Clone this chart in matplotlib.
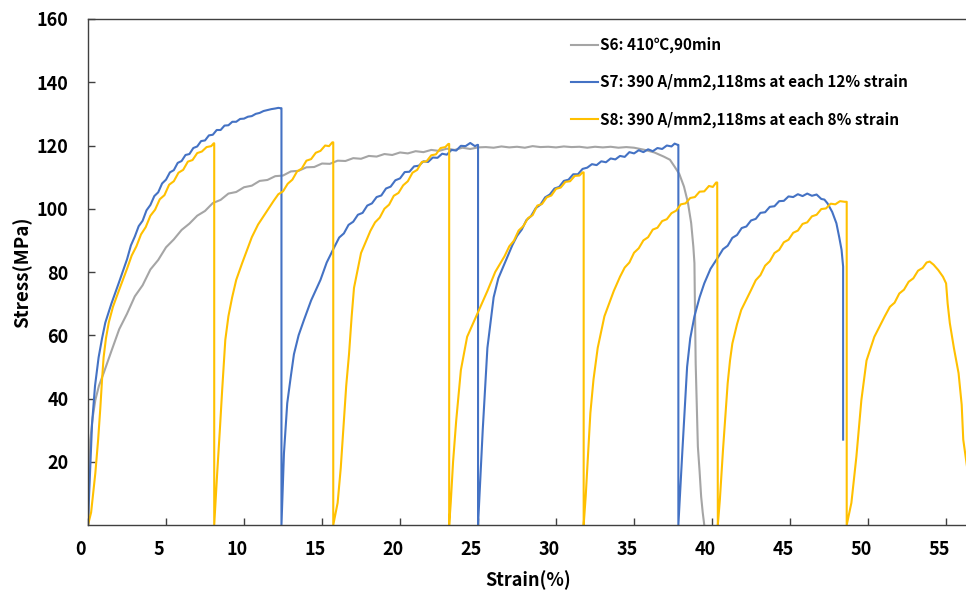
import matplotlib
matplotlib.use("Agg")
import matplotlib.pyplot as plt
import matplotlib.transforms as mtransforms

plt.rcParams['font.family'] = ['Noto Sans CJK JP', 'DejaVu Sans']
plt.rcParams['font.weight'] = 'bold'

# ---------------- data ----------------
s6_strain = [0, 0.05, 0.15, 0.3, 0.47, 0.7, 1.0,
             1.5, 2.0, 2.5, 3.0, 3.5, 4.0, 4.5, 5.0, 5.5, 6.0, 6.5, 7.0, 7.5, 8.0, 8.5, 9.0,
             9.5, 10.0, 10.5, 11.0, 11.5, 12.0, 12.5, 13.0, 13.5, 14.0, 14.5, 15.0, 15.5, 16.0,
             16.5, 17.0, 17.5, 18.0, 18.5, 19.0, 19.5, 20.0, 20.5, 21.0, 21.5, 22.0, 22.5, 23.0,
             23.5, 24.0, 24.5, 25.0,
             25.5, 26.0, 26.5, 27.0, 27.5, 28.0, 28.5, 29.0, 29.5, 30.0, 30.5, 31.0, 31.5, 32.0,
             32.5, 33.0, 33.5, 34.0, 34.5, 35.0,
             35.7, 36.3, 36.9, 37.3, 37.6, 37.9, 38.2, 38.45, 38.66, 38.8, 38.87, 38.9, 38.95,
             39.09, 39.2, 39.3, 39.4, 39.5]
s6_stress = [0, 10, 27, 34, 39.5, 44, 48,
             55, 61.9, 66.8, 72.3, 75.8, 80.8, 83.8, 87.8, 90.3, 93.3, 95.3, 97.8, 99.3, 101.8, 102.8, 104.8,
             105.3, 106.8, 107.3, 108.8, 109.1, 110.3, 110.5, 111.8, 112.0, 113.1, 113.2, 114.3, 114.2, 115.2,
             115.1, 116.0, 115.8, 116.7, 116.5, 117.3, 117.0, 117.8, 117.5, 118.2, 117.9, 118.6, 118.3, 119.0,
             118.6, 119.3, 118.9, 119.4,
             119.5, 119.3, 119.7, 119.4, 119.6, 119.3, 119.8, 119.5, 119.6, 119.4, 119.7, 119.5, 119.6, 119.3,
             119.6, 119.4, 119.6, 119.3, 119.5, 119.3,
             118.6, 117.8, 116.5, 115.5, 113.3, 111, 107, 102, 95.5, 88, 82.8, 70, 51,
             24.8, 17, 9, 4, 0]

s7_strain = [0, 0.04, 0.26, 0.45, 0.68, 0.9, 1.11, 1.5, 1.97,
             2.5, 2.75, 3.0, 3.25, 3.5, 3.75, 4.0, 4.25, 4.5, 4.75, 5.0, 5.25, 5.5, 5.75, 6.0,
             6.25, 6.5, 6.75, 7.0, 7.25, 7.5, 7.75, 8.0, 8.25, 8.5, 8.75, 9.0, 9.25, 9.5, 9.75,
             10.0, 10.25, 10.5, 10.75, 11.0, 11.25, 11.5, 11.75, 12.0, 12.2, 12.34, 12.4,
             12.4, 12.56, 12.77, 13.0, 13.2, 13.5, 13.84, 14.3, 14.9, 15.3,
             15.8, 16.1, 16.4, 16.7, 17.0, 17.3, 17.6, 17.9, 18.2, 18.5, 18.8, 19.1, 19.4, 19.7,
             20.0, 20.3, 20.6, 20.9, 21.2, 21.5, 21.8, 22.1, 22.4, 22.7, 23.0, 23.3, 23.6, 23.9,
             24.2, 24.5, 24.8, 24.97, 25.0,
             25.0, 25.3, 25.6, 26.0, 26.3, 26.7,
             27.2, 27.5, 27.8, 28.1, 28.4, 28.7, 29.0, 29.3, 29.6, 29.9, 30.2, 30.5, 30.8, 31.1,
             31.4, 31.7, 32.0, 32.3, 32.6, 32.9, 33.2, 33.5, 33.8, 34.1, 34.4, 34.7, 35.0, 35.3,
             35.6, 35.9, 36.2, 36.5, 36.8, 37.1, 37.4, 37.6, 37.8, 37.84,
             37.84, 38.1, 38.4, 38.6, 38.87, 39.2, 39.5, 39.9,
             40.4, 40.7, 41.0, 41.3, 41.6, 41.9, 42.2, 42.5, 42.8, 43.1, 43.4, 43.7, 44.0, 44.3,
             44.6, 44.9, 45.2, 45.5, 45.8, 46.1, 46.4, 46.7, 47.0, 47.2, 47.4,
             47.7, 47.97, 48.15, 48.3, 48.4, 48.4]
s7_stress = [0, 5.8, 32, 44, 53, 59, 64, 70, 76.5,
             84, 88.4, 91.2, 94.5, 96.2, 99.5, 101.2, 104, 105.2, 108, 109.2, 111.5, 112.2, 114.5, 115.1,
             117, 117.3, 119.2, 119.7, 121.4, 121.6, 123.2, 123.4, 124.9, 124.9, 126.3, 126.4, 127.5, 127.5, 128.4,
             128.5, 129.1, 129.3, 130, 130.3, 130.9, 131.2, 131.5, 131.7, 131.9, 131.8, 131.8,
             0, 22.7, 38.5, 47, 54, 60, 64.8, 71, 77.5, 83,
             88, 90.9, 92.2, 94.9, 95.9, 98.1, 98.7, 101, 101.7, 103.7, 104.2, 106.4, 107.0, 109.0,
             109.6, 111.6, 111.7, 113.4, 113.6, 115.0, 114.8, 116.2, 116.1, 117.4, 117.1, 118.6, 118.4, 119.9,
             119.8, 120.8, 119.8, 120.2, 120.2,
             0, 30, 56, 72, 78, 82.7,
             88.5, 91.4, 93.4, 96.4, 97.7, 100.2, 101.3, 103.6, 104.5, 106.4, 106.9, 108.8, 109.2, 110.9,
             110.9, 112.6, 113.0, 114.1, 113.8, 115.0, 114.7, 115.9, 115.6, 116.7, 116.4, 117.9, 117.5, 118.5,
             117.9, 118.8, 118.2, 119.2, 118.9, 120.0, 119.7, 120.6, 120.2, 120.2,
             0, 23.7, 50, 59, 66, 72, 76.4, 81,
             84.8, 87.2, 88.3, 90.8, 91.7, 93.9, 94.4, 96.3, 96.8, 98.7, 98.9, 100.6, 100.8, 102.4,
             102.5, 103.9, 103.7, 104.6, 104.0, 104.8, 104.1, 104.5, 103.1, 102.9, 101.7,
             99, 95.4, 91, 87, 81.7, 27]

s8_strain = [0, 0.2, 0.47, 0.65, 0.79, 0.9, 1.0, 1.15, 1.33, 1.6, 1.97,
             2.5, 2.8, 3.1, 3.4, 3.7, 4.0, 4.3, 4.6, 4.9, 5.2, 5.5, 5.8, 6.1, 6.4, 6.7, 7.0,
             7.3, 7.6, 7.9, 8.06, 8.09,
             8.09, 8.28, 8.45, 8.6, 8.8, 9.0, 9.24, 9.5, 9.88, 10.5, 10.9, 11.38,
             11.9, 12.2, 12.5, 12.8, 13.1, 13.4, 13.7, 14.0, 14.3, 14.6, 14.9, 15.2, 15.45, 15.66, 15.72,
             15.72, 16.0, 16.2, 16.4, 16.55, 16.73, 16.9, 17.05, 17.5,
             18.1, 18.4, 18.7, 19.0, 19.3, 19.6, 19.9, 20.2, 20.5, 20.8, 21.1, 21.4, 21.7, 22.0,
             22.3, 22.6, 22.9, 23.1, 23.15,
             23.15, 23.25, 23.4, 23.6, 23.9, 24.3, 24.97, 25.6, 26.1,
             26.7, 27.0, 27.3, 27.6, 27.9, 28.2, 28.5, 28.8, 29.1, 29.4, 29.7, 30.0, 30.3, 30.6,
             30.9, 31.2, 31.5, 31.7, 31.77,
             31.77, 31.9, 32.05, 32.2, 32.4, 32.67, 33.1, 33.7,
             34.1, 34.4, 34.7, 35.0, 35.3, 35.6, 35.9, 36.2, 36.5, 36.8, 37.1, 37.4, 37.7, 38.0,
             38.3, 38.6, 38.9, 39.2, 39.5, 39.8, 40.05, 40.26, 40.33,
             40.37, 40.5, 40.7, 41.0, 41.15, 41.3, 41.6, 41.87,
             42.5, 42.8, 43.1, 43.4, 43.7, 44.0, 44.3, 44.6, 44.9, 45.2, 45.5, 45.8, 46.1, 46.4,
             46.7, 47.0, 47.3, 47.6, 47.9, 48.2, 48.5, 48.63,
             48.63, 48.93, 49.25, 49.57, 49.9, 50.4,
             51.07, 51.4, 51.7, 52.0, 52.3, 52.6, 52.9, 53.2, 53.5, 53.75, 53.95,
             54.2, 54.5, 54.8, 55.0, 55.1, 55.24, 55.5, 55.8, 56.0, 56.1, 56.4, 56.8]
s8_stress = [0, 4, 16.4, 27, 37, 46, 53, 59, 64, 69, 74,
             81, 85.2, 88.1, 91.9, 94.2, 97.8, 99.7, 103, 104.3, 107.6, 108.7, 111.4, 112.3, 114.9, 115.4, 117.6,
             118.1, 119.5, 119.8, 120.7, 120.7,
             0, 16.4, 30, 42.7, 58.5, 66, 72, 77.5, 82.8, 91, 95, 98.6,
             102.5, 104.6, 105.5, 107.9, 109.2, 111.8, 112.7, 115.2, 115.7, 117.7, 118.3, 120, 119.8, 121.0, 121.0,
             0, 7, 18, 33, 44, 54, 66, 75, 86,
             93, 95.7, 97.2, 100.0, 101.3, 104.1, 105.0, 107.4, 108.7, 111.4, 112.3, 114.8, 115.0, 116.9,
             117.2, 119.2, 119.5, 120.5, 120.5,
             0, 7, 20, 33, 49, 59.5, 67, 74, 80,
             85, 88.1, 89.9, 93.1, 94.5, 97.0, 98.0, 101.0, 101.5, 103.6, 104.2, 106.3, 106.7, 108.5,
             108.7, 110.4, 110.5, 111.5, 111.5,
             0, 9, 22, 35.4, 46, 56, 66, 74,
             78.5, 81.4, 83, 86.1, 87.5, 90, 91.0, 93.4, 94.0, 96.1, 96.7, 98.6, 99.4, 101.4,
             101.7, 103.4, 103.7, 105.4, 105.5, 107.2, 106.9, 108.3, 108.3,
             0, 8, 23.7, 44.8, 52, 57.4, 63.5, 68,
             74.3, 77.4, 79.0, 82.0, 83.4, 86.0, 87.0, 89.4, 90.2, 92.4, 93.1, 95.2, 95.7, 97.6,
             98.1, 99.9, 100.1, 101.6, 101.4, 102.4, 102.2, 102.2,
             0, 7, 21.6, 39.5, 52, 59.5,
             66, 69.0, 70.3, 73.2, 74.4, 76.9, 78.0, 80.4, 81.3, 83.0, 83.3,
             82.3, 80.6, 78.5, 76.4, 70, 63.8, 56, 48, 38, 27, 16.4, 4]

labels = ["S6: 410\u2103,90min",
          "S7: 390 A/mm2,118ms at each 12% strain",
          "S8: 390 A/mm2,118ms at each 8% strain"]
colors = ["#A5A5A5", "#4472C4", "#FFC000"]

x_ticks = [0, 5, 10, 15, 20, 25, 30, 35, 40, 45, 50, 55]
y_ticks = [20, 40, 60, 80, 100, 120, 140, 160]

# ---------------- figure ----------------
fig = plt.figure(figsize=(9.66, 5.90), dpi=100)
ax = fig.add_axes([88 / 966, 1 - 525 / 590, 1 - 88 / 966 + 0.002, (525 - 19) / 590])

ax.plot(s6_strain, s6_stress, color=colors[0], lw=1.5, label=labels[0])
ax.plot(s7_strain, s7_stress, color=colors[1], lw=1.5, label=labels[1])
ax.plot(s8_strain, s8_stress, color=colors[2], lw=1.5, label=labels[2])

ax.set_xlim(0, 56.4)
ax.set_ylim(0, 160)
ax.set_xticks(x_ticks)
ax.set_yticks(y_ticks)
ax.tick_params(axis='both', direction='in', length=5, width=1, color='#404040',
               labelsize=13)
ax.tick_params(axis='x', pad=11)
ax.tick_params(axis='y', pad=14)
for lab in ax.get_xticklabels() + ax.get_yticklabels():
    lab.set_fontweight('bold')
offset = mtransforms.ScaledTranslation(-7 / 100, 0, fig.dpi_scale_trans)
for lab in ax.get_xticklabels():
    lab.set_transform(lab.get_transform() + offset)

for sp in ['left', 'bottom', 'top']:
    ax.spines[sp].set_color('#404040')
    ax.spines[sp].set_linewidth(1.0)
ax.spines['right'].set_visible(False)

ax.set_xlabel("Strain(%)", fontsize=13, fontweight='bold', labelpad=8)
ax.set_ylabel("Stress(MPa)", fontsize=13.5, fontweight='bold', labelpad=3)

leg = ax.legend(loc='upper left', bbox_to_anchor=(571 / 966, 1 - 37 / 590),
                bbox_transform=fig.transFigure, frameon=False, fontsize=11,
                handlelength=1.75, handletextpad=0.15, labelspacing=1.35,
                borderpad=0, borderaxespad=0)
for t in leg.get_texts():
    t.set_fontweight('bold')

fig.savefig("out.png", dpi=100)
